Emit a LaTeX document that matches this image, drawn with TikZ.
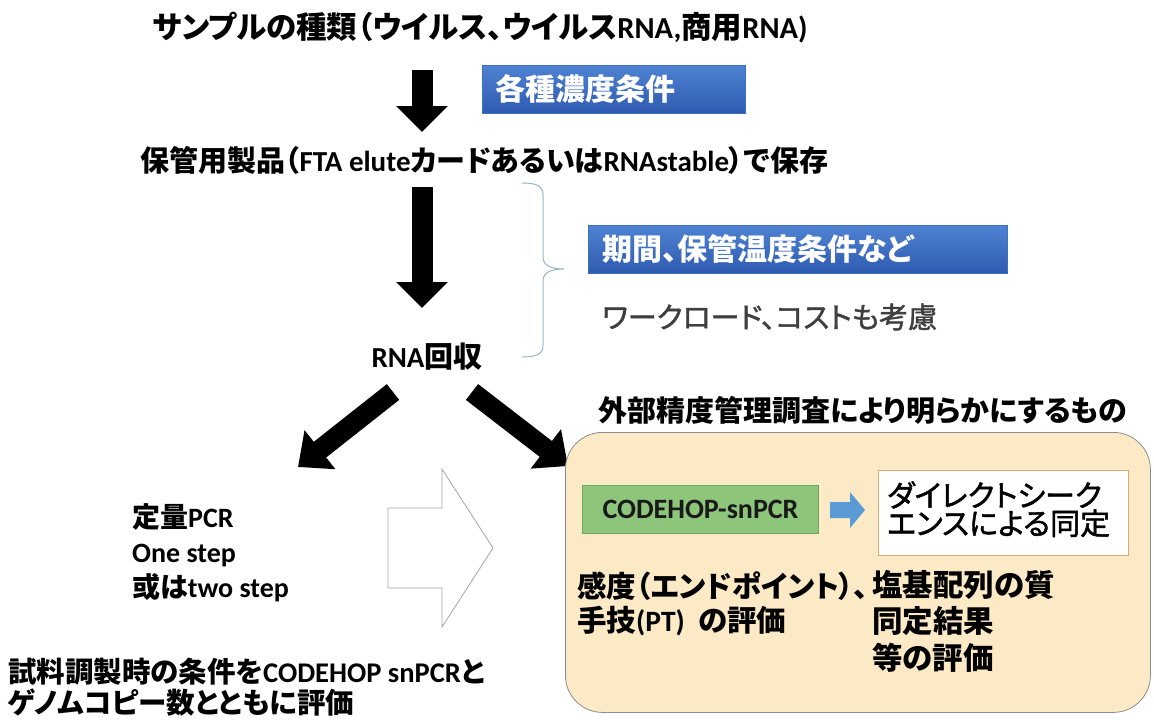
\documentclass[tikz,border=0pt]{standalone}
\usepackage{fontspec}
\setmainfont{Noto Sans CJK JP}[RawFeature=+palt]
\newfontfamily\jpmed{Noto Sans CJK JP}[RawFeature=+palt, FakeBold=1.5]
\newfontfamily\carl{Carlito}
\newcommand\lat[1]{{\carl #1}}
\usetikzlibrary{arrows.meta}
\definecolor{peach}{HTML}{FCE9C6}
\definecolor{boxgray}{HTML}{8C8C8C}
\definecolor{gfill}{HTML}{8DC57A}
\definecolor{gdraw}{HTML}{6EA65A}
\definecolor{btop}{HTML}{4F82D2}
\definecolor{bbot}{HTML}{2E5BB0}
\definecolor{bdraw}{HTML}{3F6FBF}
\definecolor{smallblue}{HTML}{5B9BD5}
\definecolor{bracecol}{HTML}{9AB0C8}
\definecolor{orng}{HTML}{D9A873}
\definecolor{dgray}{HTML}{3F3F3F}
\begin{document}
\begin{tikzpicture}[x=1pt,y=-1pt,
  txt/.style={inner sep=0pt, font=\bfseries\fontsize{29}{34}\selectfont, text=black},
  bluebox/.style={draw=bdraw, top color=btop, bottom color=bbot, text=white,
     font=\bfseries\fontsize{30}{34}\selectfont, align=left, inner ysep=0pt,
     minimum height=48pt, anchor=north west},
  blk/.style={line width=21pt, black, -{Triangle[length=26pt,width=50pt]}},
  outl/.style={draw=boxgray!80, line width=0.8pt, fill=white}]
\useasboundingbox (0,0) rectangle (1154,721);

% top text
\node[txt, font=\bfseries\fontsize{30.5}{34}\selectfont] (t1) at (480,28) {サンプルの種類（ウイルス、ウイルス\lat{RNA,}商用\lat{RNA)}};
\node[bluebox, text width=237pt, inner xsep=13pt] (b1) at (482,65) {各種濃度条件};
\node[txt] (t2) at (484,160) {保管用製品（\lat{FTA elute}カードあるいは\lat{RNAstable}）で保存};
\node[bluebox, text width=391pt, inner xsep=14pt] (b2) at (588,225) {期間、保管温度条件など};
\node[inner sep=0pt, anchor=west, text=dgray, font=\jpmed\fontsize{29}{33}\selectfont] (t4) at (602,317) {ワークロード、コストも考慮};
\node[txt] (t3) at (427,357) {\lat{RNA}回収};

% vertical arrows
\coordinate (a1s) at (422,70);
\coordinate (a1e) at (422,132);
\coordinate (a2s) at (422,187);
\coordinate (a2e) at (422,308);
\draw[blk] (a1s) -- (a1e);
\draw[blk] (a2s) -- (a2e);

% brace
\coordinate (brT) at (522,183);
\coordinate (brB) at (522,357);
\coordinate (brTip) at (564,269);
\draw[bracecol, line width=1pt] (brT) .. controls (537,183) and (543,186) .. (543,195)
  -- (543,257) .. controls (543,265) and (550,269) .. (brTip)
  .. controls (550,269) and (543,273) .. (543,281)
  -- (543,345) .. controls (543,354) and (537,357) .. (brB);

% diagonal arrows
\coordinate (d1s) at (393,392);
\coordinate (d1e) at (298,467);
\coordinate (d2s) at (472,392);
\coordinate (d2e) at (568,466);
\draw[blk, line width=20pt, -{Triangle[length=28pt,width=48pt]}] (d1s) -- (d1e);
\draw[blk, line width=20pt, -{Triangle[length=28pt,width=48pt]}] (d2s) -- (d2e);

% right panel
\node[txt, anchor=west] (t5) at (598,410) {外部精度管理調査により明らかにするもの};
\node[draw=boxgray, line width=0.8pt, fill=peach, rounded corners=37pt, minimum width=585pt,
  minimum height=280pt, anchor=north west, inner sep=0pt] (big) at (565,432) {};
\node[draw=gdraw, line width=1pt, fill=gfill, minimum width=236pt, minimum height=48pt,
  anchor=north west, inner sep=0pt, font=\carl\bfseries\fontsize{28}{30}\selectfont, text=black!90] (g) at (582,485) {CODEHOP-snPCR};
\node[draw=orng, line width=1pt, fill=white, minimum width=250pt, minimum height=85pt,
  anchor=north west, inner sep=0pt] (w) at (878,470) {};
\node[inner sep=0pt, anchor=north west, align=left, font=\jpmed\fontsize{30}{28}\selectfont, text=black] (wt) at (887,481) {ダイレクトシーク\\エンスによる同定};
\fill[smallblue] (830,502) -- (850,502) -- (850,492) -- (865,510) -- (850,528) -- (850,518) -- (830,518) -- cycle;
\node[txt, anchor=north west, align=left, font=\bfseries\fontsize{29.5}{34}\selectfont] (e1) at (577,571) {感度（エンドポイント）、\\手技\lat{(PT)}\ \ の評価};
\node[txt, anchor=north west, align=left, font=\bfseries\fontsize{30.5}{36.5}\selectfont] (e2) at (872,570) {塩基配列の質\\同定結果\\等の評価};

% left part
\node[txt, anchor=north west, align=left, font=\bfseries\fontsize{28}{35}\selectfont] (q) at (132,503) {定量\lat{PCR}\\\lat{One step}\\或は\lat{two step}};
\draw[outl] (388,508) -- (442,508) -- (442,469) -- (493,548) -- (442,627) -- (442,588) -- (388,588) -- cycle;
\node[txt, anchor=north west, align=left, font=\bfseries\fontsize{28.5}{31}\selectfont] (bt) at (8,658) {試料調製時の条件を\lat{CODEHOP snPCR}と\\ゲノムコピー数とともに評価};
\end{tikzpicture}
\end{document}
